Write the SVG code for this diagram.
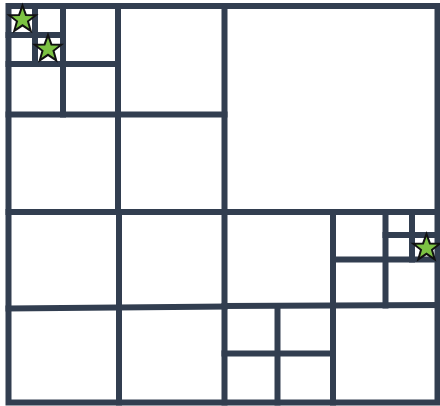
<svg xmlns="http://www.w3.org/2000/svg" width="440" height="406" viewBox="0 0 440 406">
  <defs>
    <style>
      .ln { stroke: #323e50; stroke-width: 6; stroke-linecap: square; fill: none; }
      .star { fill: #7cc243; stroke: #111; stroke-width: 2; stroke-linejoin: miter; }
    </style>
    <polygon id="star" points="0,-14 3.4,-4.6 13.3,-4.3 5.5,1.8 8.2,11.3 0,5.8 -8.2,11.3 -5.5,1.8 -13.3,-4.3 -3.4,-4.6"/>
  </defs>
  <rect width="440" height="406" fill="#ffffff"/>
  <g id="grid">
    <rect class="ln" x="8.5" y="6" width="429" height="396.5"/>
    <line class="ln" x1="224.5" y1="6" x2="224.5" y2="402.5"/>
    <line class="ln" x1="8.5" y1="212" x2="437.5" y2="212"/>
    <line class="ln" x1="118" y1="6" x2="118" y2="212"/>
    <line class="ln" x1="8.5" y1="114.5" x2="224.5" y2="114.5"/>
    <line class="ln" x1="63" y1="6" x2="63" y2="114.5"/>
    <line class="ln" x1="8.5" y1="64" x2="118" y2="64"/>
    <line class="ln" x1="35" y1="6" x2="35" y2="64"/>
    <line class="ln" x1="8.5" y1="35" x2="63" y2="35"/>
    <line class="ln" x1="119" y1="212" x2="119" y2="402.5"/>
    <line class="ln" x1="8.5" y1="308.5" x2="224.5" y2="306.5"/>
    <line class="ln" x1="333" y1="212" x2="333" y2="402.5"/>
    <line class="ln" x1="224.5" y1="306" x2="437.5" y2="305"/>
    <line class="ln" x1="277.5" y1="306" x2="277.5" y2="402.5"/>
    <line class="ln" x1="224.5" y1="353.5" x2="333" y2="353.5"/>
    <line class="ln" x1="385.5" y1="212" x2="385.5" y2="305.5"/>
    <line class="ln" x1="333" y1="259.5" x2="437.5" y2="259.5"/>
    <line class="ln" x1="412" y1="212" x2="412" y2="259.5"/>
    <line class="ln" x1="385.5" y1="235" x2="437.5" y2="235"/>
  </g>
  <g id="stars">
    <use href="#star" class="star" transform="translate(22.5,19.5)"/>
    <use href="#star" class="star" transform="translate(48,49)"/>
    <use href="#star" class="star" transform="translate(426.5,248)"/>
  </g>
</svg>
